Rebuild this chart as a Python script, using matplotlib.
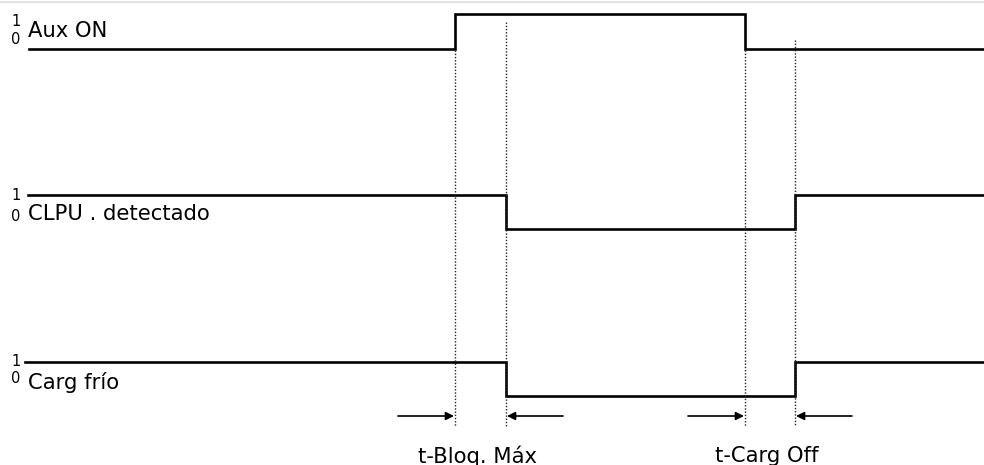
import matplotlib
matplotlib.use("Agg")
import matplotlib.pyplot as plt

# señales (tiempos de flanco y niveles, estilo steps-post)
nombres = ["Aux ON", "CLPU . detectado", "Carg frío"]
t_aux = [29, 455, 745, 984]
v_aux = [0, 1, 0, 0]
t_clpu = [28, 506, 795, 984]
v_clpu = [1, 0, 1, 1]
t_carg = [25, 506, 795, 984]
v_carg = [1, 0, 1, 1]

# tiempos marcados y etiquetas de intervalos
t_marcas = [455, 506, 745, 795]
intervalos = [("t-Bloq. Máx", 455, 506), ("t-Carg Off", 745, 795)]

fig = plt.figure(figsize=(9.84, 4.65), dpi=100)
ax = fig.add_axes([0, 0, 1, 1])
ax.set_xlim(0, 984)
ax.set_ylim(465, 0)
ax.axis("off")

base = [49, 229, 396]   # posicion del nivel 0 de cada fila
alto = 34.5

señales = [(t_aux, v_aux), (t_clpu, v_clpu), (t_carg, v_carg)]
for i, (t, v) in enumerate(señales):
    y = [base[i] - alto * k for k in v]
    ax.plot(t, y, drawstyle="steps-post", color="black", lw=1.9,
            solid_joinstyle="miter")

# etiquetas 1 / 0 y nombre
pos_1 = [21, 195, 361]
pos_0 = [39, 216, 378]
pos_txt = [37, 220, 389]
for i, nombre in enumerate(nombres):
    ax.text(16, pos_1[i], "1", fontsize=10.5, ha="center", va="center")
    ax.text(16, pos_0[i], "0", fontsize=10.5, ha="center", va="center")
    ax.text(28, pos_txt[i], nombre, fontsize=15.2, ha="left", va="baseline")

# lineas punteadas verticales
inicio = [50, 22, 50, 40]
for x, y0 in zip(t_marcas, inicio):
    ax.plot([x, x], [y0, 426], color="#222222", lw=1.0,
            linestyle=(0, (1, 1.3)))

# flechas de los intervalos
for texto, a, b in intervalos:
    ax.annotate("", xy=(a - 1, 416), xytext=(a - 57, 416),
                arrowprops=dict(arrowstyle="-|>", color="black", lw=1.2,
                                mutation_scale=12, shrinkA=0, shrinkB=0))
    ax.annotate("", xy=(b + 1, 416), xytext=(b + 57, 416),
                arrowprops=dict(arrowstyle="-|>", color="black", lw=1.2,
                                mutation_scale=12, shrinkA=0, shrinkB=0))
    ax.text((a + b) / 2 - 3, 456, texto, fontsize=15.2, ha="center", va="center")

# borde superior gris claro
ax.plot([0, 984], [2, 2], color="#e3e3e3", lw=1.5)

fig.savefig("out.png", dpi=100)
